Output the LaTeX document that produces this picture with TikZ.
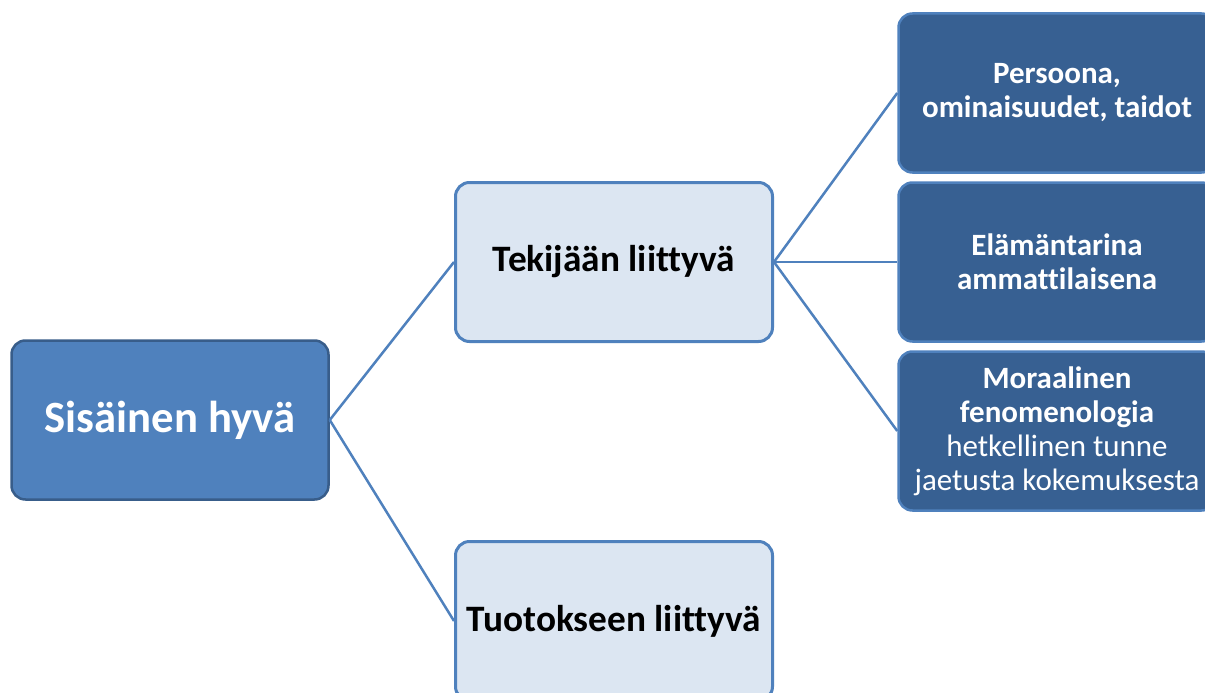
\documentclass[tikz,border=0pt]{standalone}
\usepackage{fontspec}
\setmainfont{Carlito}[Ligatures=NoCommon]
\usepackage{tikz}
\usetikzlibrary{positioning}
\definecolor{shdark}{RGB}{55,96,146}
\definecolor{shmid}{RGB}{79,129,189}
\definecolor{shedge}{RGB}{56,93,138}
\definecolor{shpale}{RGB}{220,230,242}

\begin{document}
\begin{tikzpicture}[x=1pt,y=1pt,
  rootbox/.style={draw=shedge,line width=2.5pt,fill=shmid,rounded corners=14pt,
    minimum width=317pt,minimum height=159pt,text=white,font=\fontsize{44.7}{50}\selectfont\bfseries},
  midbox/.style={draw=shmid,line width=3pt,fill=shpale,rounded corners=14pt,
    minimum width=317pt,minimum height=159pt,text=black,font=\fontsize{37.3}{40}\selectfont\bfseries},
  leafbox/.style={draw=shmid,line width=2.5pt,fill=shdark,rounded corners=14pt,
    minimum width=317pt,minimum height=159pt,text=white,align=center,inner sep=0pt,
    font=\fontsize{31}{34}\selectfont},
  link/.style={draw=shmid,line width=2.5pt}]
\path[use as bounding box,clip] (0,0) rectangle (1205,-693);
\fill[white] (0,0) rectangle (1205,-693);
\node[rootbox] (root) at (170,-420) {Sisäinen hyvä};
\node[midbox] (doer) at (614,-262) {Tekijään liittyvä};
\node[midbox] (work) at (614,-621) {Tuotokseen liittyvä};
\node[leafbox] (person) at (1057,-93) {\bfseries Persoona,\\\bfseries ominaisuudet, taidot};
\node[leafbox] (story) at (1057,-262) {\bfseries Elämäntarina\\\bfseries ammattilaisena};
\node[leafbox] (moral) at (1057,-431) {\bfseries Moraalinen\\\bfseries fenomenologia\\hetkellinen tunne\\jaetusta kokemuksesta};
\foreach \t in {doer,work}
  \draw[link] (root.east) -- (\t.west);
\foreach \t in {person,story,moral}
  \draw[link] (doer.east) -- (\t.west);
\end{tikzpicture}
\end{document}
